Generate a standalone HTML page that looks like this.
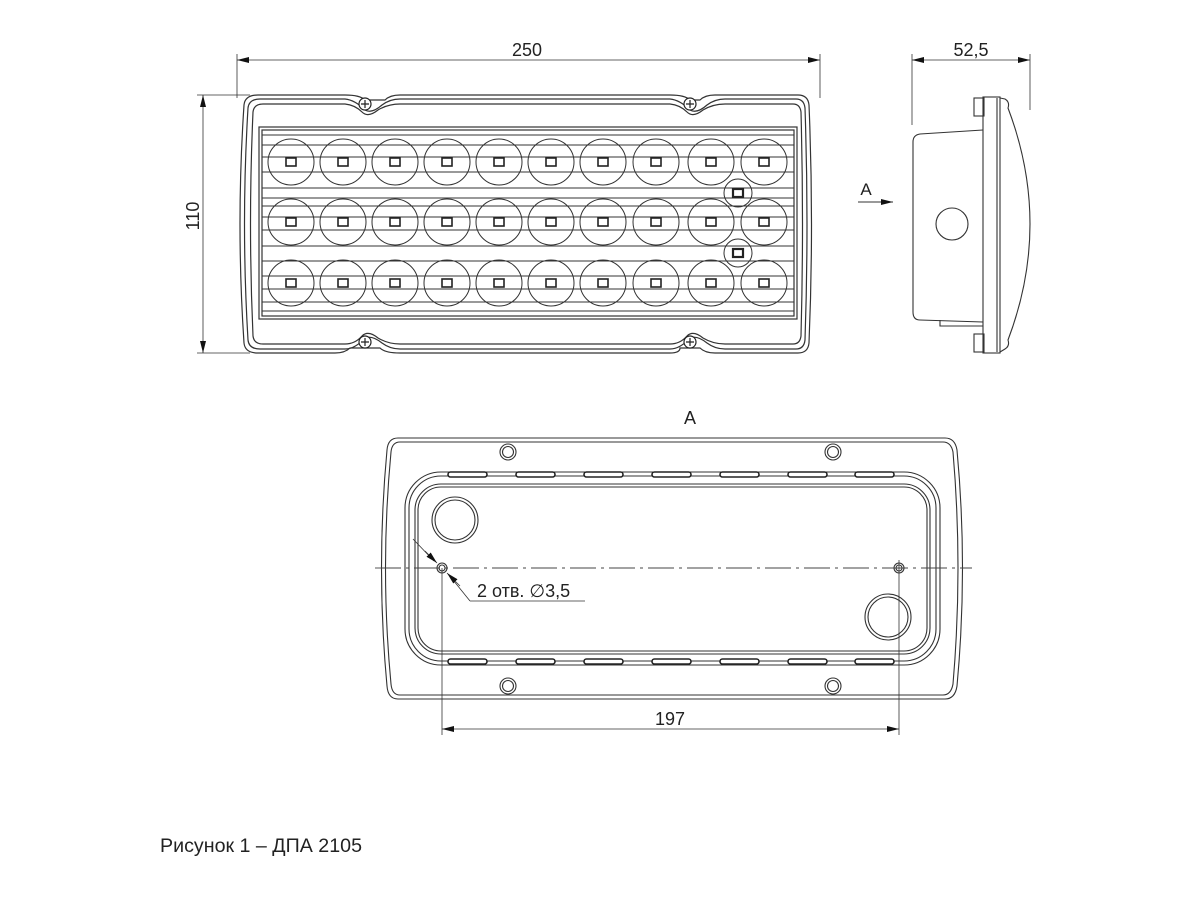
<!DOCTYPE html>
<html><head><meta charset="utf-8"><style>
html,body{margin:0;padding:0;background:#fff;width:1200px;height:900px;overflow:hidden}
svg{display:block}
text{font-family:"Liberation Sans",sans-serif;fill:#222}
</style></head><body>
<svg width="1200" height="900" viewBox="0 0 1200 900" xmlns="http://www.w3.org/2000/svg">
<defs>
<marker id="ar" viewBox="0 0 12 6" refX="12" refY="3" markerWidth="12" markerHeight="6" orient="auto-start-reverse" markerUnits="userSpaceOnUse"><path d="M0,0 L12,3 L0,6 z" fill="#111"/></marker>
</defs>
<g fill="none" stroke="#333" stroke-width="1.2">
<line x1="237" y1="54" x2="237" y2="98" stroke-width="0.8"/>
<line x1="820" y1="54" x2="820" y2="98" stroke-width="0.8"/>
<line x1="237" y1="60" x2="820" y2="60" stroke-width="0.8" marker-start="url(#ar)" marker-end="url(#ar)"/>
<line x1="197" y1="95" x2="250" y2="95" stroke-width="0.8"/>
<line x1="197" y1="353" x2="250" y2="353" stroke-width="0.8"/>
<line x1="203" y1="95" x2="203" y2="353" stroke-width="0.8" marker-start="url(#ar)" marker-end="url(#ar)"/>
<path d="M258,95 L345,95 Q360,95 365,100 L385,100 Q390,95 400,95 L670,95 Q685,95 690,100 L700,100 Q705,95 715,95 L798,95 Q808,95 809,105 Q814,224 809,343 Q808,353 798,353 L715,353 Q705,353 700,348 L680,348 Q680,353 670,353 L400,353 Q385,353 380,348 L350,348 Q345,353 335,353 L258,353 Q245,353 244,343 Q236,224 244,105 Q245,95 258,95 Z"/>
<path d="M260,99 L345,99 Q355,100 365,110 Q372,114 382,105 Q390,99 400,99 L670,99 Q680,100 690,110 Q697,114 707,105 Q715,99 725,99 L796,99 Q804,99 805,108 Q809,224 805,340 Q804,349 796,349 L725,349 Q715,349 707,343 Q697,335 690,338 Q680,349 670,349 L400,349 Q390,349 382,343 Q372,335 365,338 Q355,349 345,349 L260,349 Q249,349 248,340 Q241,224 248,108 Q249,99 260,99 Z"/>
<path d="M263,104 L345,104 Q355,105 362,112 Q368,118 378,110 Q388,104 400,104 L670,104 Q680,105 687,112 Q693,118 703,110 Q713,104 725,104 L793,104 Q800,104 801,112 Q804,224 801,336 Q800,344 793,344 L725,344 Q713,344 703,338 Q693,330 687,336 Q680,344 670,344 L400,344 Q388,344 378,338 Q368,330 362,336 Q355,344 345,344 L263,344 Q254,344 253,336 Q248,224 253,112 Q254,104 263,104 Z"/>
<rect x="259" y="127" width="538" height="192"/>
<rect x="262" y="130" width="532" height="186"/>
</g>
<g stroke="#333" stroke-width="1" fill="none">
<line x1="262" y1="135" x2="794" y2="135"/>
<line x1="262" y1="145" x2="794" y2="145"/>
<line x1="262" y1="157" x2="794" y2="157"/>
<line x1="262" y1="172" x2="794" y2="172"/>
<line x1="262" y1="188" x2="794" y2="188"/>
<line x1="262" y1="198" x2="794" y2="198"/>
<line x1="262" y1="206" x2="794" y2="206"/>
<line x1="262" y1="217" x2="794" y2="217"/>
<line x1="262" y1="230" x2="794" y2="230"/>
<line x1="262" y1="246" x2="794" y2="246"/>
<line x1="262" y1="261" x2="794" y2="261"/>
<line x1="262" y1="276" x2="794" y2="276"/>
<line x1="262" y1="289" x2="794" y2="289"/>
<line x1="262" y1="302" x2="794" y2="302"/>
<line x1="262" y1="311" x2="794" y2="311"/>
</g>
<g stroke="#333" stroke-width="1" fill="none">
<circle cx="291" cy="162" r="23"/><circle cx="343" cy="162" r="23"/><circle cx="395" cy="162" r="23"/><circle cx="447" cy="162" r="23"/><circle cx="499" cy="162" r="23"/><circle cx="551" cy="162" r="23"/><circle cx="603" cy="162" r="23"/><circle cx="656" cy="162" r="23"/><circle cx="711" cy="162" r="23"/><circle cx="764" cy="162" r="23"/>
<circle cx="291" cy="222" r="23"/><circle cx="343" cy="222" r="23"/><circle cx="395" cy="222" r="23"/><circle cx="447" cy="222" r="23"/><circle cx="499" cy="222" r="23"/><circle cx="551" cy="222" r="23"/><circle cx="603" cy="222" r="23"/><circle cx="656" cy="222" r="23"/><circle cx="711" cy="222" r="23"/><circle cx="764" cy="222" r="23"/>
<circle cx="291" cy="283" r="23"/><circle cx="343" cy="283" r="23"/><circle cx="395" cy="283" r="23"/><circle cx="447" cy="283" r="23"/><circle cx="499" cy="283" r="23"/><circle cx="551" cy="283" r="23"/><circle cx="603" cy="283" r="23"/><circle cx="656" cy="283" r="23"/><circle cx="711" cy="283" r="23"/><circle cx="764" cy="283" r="23"/>
<circle cx="738" cy="193" r="14"/><circle cx="738" cy="253" r="14"/>
</g>
<g stroke="#222" stroke-width="1.6" fill="#fff">
<rect x="286" y="158" width="10" height="8"/><rect x="338" y="158" width="10" height="8"/><rect x="390" y="158" width="10" height="8"/><rect x="442" y="158" width="10" height="8"/><rect x="494" y="158" width="10" height="8"/><rect x="546" y="158" width="10" height="8"/><rect x="598" y="158" width="10" height="8"/><rect x="651" y="158" width="10" height="8"/><rect x="706" y="158" width="10" height="8"/><rect x="759" y="158" width="10" height="8"/>
<rect x="286" y="218" width="10" height="8"/><rect x="338" y="218" width="10" height="8"/><rect x="390" y="218" width="10" height="8"/><rect x="442" y="218" width="10" height="8"/><rect x="494" y="218" width="10" height="8"/><rect x="546" y="218" width="10" height="8"/><rect x="598" y="218" width="10" height="8"/><rect x="651" y="218" width="10" height="8"/><rect x="706" y="218" width="10" height="8"/><rect x="759" y="218" width="10" height="8"/>
<rect x="286" y="279" width="10" height="8"/><rect x="338" y="279" width="10" height="8"/><rect x="390" y="279" width="10" height="8"/><rect x="442" y="279" width="10" height="8"/><rect x="494" y="279" width="10" height="8"/><rect x="546" y="279" width="10" height="8"/><rect x="598" y="279" width="10" height="8"/><rect x="651" y="279" width="10" height="8"/><rect x="706" y="279" width="10" height="8"/><rect x="759" y="279" width="10" height="8"/>
<rect x="733" y="189" width="10" height="8" stroke-width="2.2"/><rect x="733" y="249" width="10" height="8" stroke-width="2.2"/>
</g>
<g stroke="#222" stroke-width="1.2" fill="#fff">
<circle cx="365" cy="104" r="6"/><circle cx="690" cy="104" r="6"/><circle cx="365" cy="342" r="6"/><circle cx="690" cy="342" r="6"/>
<path d="M361,104h8M365,100v8M686,104h8M690,100v8M361,342h8M365,338v8M686,342h8M690,338v8"/>
</g>
<g fill="none" stroke="#333" stroke-width="1.1">
<line x1="912" y1="54" x2="912" y2="125" stroke-width="0.8"/>
<line x1="1030" y1="54" x2="1030" y2="110" stroke-width="0.8"/>
<line x1="912" y1="60" x2="1030" y2="60" stroke-width="0.8" marker-start="url(#ar)" marker-end="url(#ar)"/>
<path d="M983,130 L920,134 Q913,135 913,142 L913,312 Q913,320 920,320 L983,322"/>
<path d="M940,320 L940,326 L983,326"/>
<rect x="974" y="98" width="10" height="18"/>
<rect x="974" y="334" width="10" height="18"/>
<rect x="983" y="97" width="17" height="256"/>
<line x1="997" y1="98" x2="997" y2="352"/>
<path d="M1000,98 L1005,99 Q1010,102 1008,108 Q1052,224 1008,340 Q1010,346 1005,349 L1000,352"/>
<circle cx="952" cy="224" r="16"/>
</g>
<text x="971" y="56" font-size="18" text-anchor="middle">52,5</text>
<text x="527" y="56" font-size="18" text-anchor="middle">250</text>
<text x="0" y="0" font-size="18" text-anchor="middle" transform="translate(199,216) rotate(-90)">110</text>
<text x="866" y="195" font-size="17" text-anchor="middle">A</text>
<line x1="858" y1="202" x2="893" y2="202" stroke="#333" stroke-width="1" marker-end="url(#ar)"/>
<text x="690" y="424" font-size="18" text-anchor="middle">A</text>
<g fill="none" stroke="#333" stroke-width="1.1">
<path d="M398,438 L945,438 Q955,438 957,450 Q968,568 957,686 Q955,699 945,699 L398,699 Q388,699 387,686 Q376,568 387,450 Q388,438 398,438 Z"/>
<path d="M400,442 L943,442 Q951,442 953,452 Q963,568 953,684 Q951,695 943,695 L400,695 Q392,695 391,684 Q380,568 391,452 Q392,442 400,442 Z"/>
<rect x="405" y="472" width="535" height="193" rx="36"/>
<rect x="409" y="476" width="527" height="185" rx="32"/>
<rect x="415" y="484" width="515" height="170" rx="26"/>
<rect x="418" y="487" width="509" height="164" rx="23"/>
<circle cx="455" cy="520" r="23"/><circle cx="455" cy="520" r="20"/>
<circle cx="888" cy="617" r="23"/><circle cx="888" cy="617" r="20"/>
<circle cx="508" cy="452" r="8"/><circle cx="508" cy="452" r="5.5"/>
<circle cx="833" cy="452" r="8"/><circle cx="833" cy="452" r="5.5"/>
<circle cx="508" cy="686" r="8"/><circle cx="508" cy="686" r="5.5"/>
<circle cx="833" cy="686" r="8"/><circle cx="833" cy="686" r="5.5"/>
<circle cx="442" cy="568" r="5"/><circle cx="442" cy="568" r="3"/>
<circle cx="899" cy="568" r="5"/><circle cx="899" cy="568" r="3"/>
</g>
<g fill="#fff" stroke="#222" stroke-width="1.6">
<rect x="448" y="472" width="39" height="5" rx="2.5"/><rect x="516" y="472" width="39" height="5" rx="2.5"/><rect x="584" y="472" width="39" height="5" rx="2.5"/><rect x="652" y="472" width="39" height="5" rx="2.5"/><rect x="720" y="472" width="39" height="5" rx="2.5"/><rect x="788" y="472" width="39" height="5" rx="2.5"/><rect x="855" y="472" width="39" height="5" rx="2.5"/>
<rect x="448" y="659" width="39" height="5" rx="2.5"/><rect x="516" y="659" width="39" height="5" rx="2.5"/><rect x="584" y="659" width="39" height="5" rx="2.5"/><rect x="652" y="659" width="39" height="5" rx="2.5"/><rect x="720" y="659" width="39" height="5" rx="2.5"/><rect x="788" y="659" width="39" height="5" rx="2.5"/><rect x="855" y="659" width="39" height="5" rx="2.5"/>
</g>
<line x1="375" y1="568" x2="972" y2="568" stroke="#444" stroke-width="0.9" stroke-dasharray="26,5,3,5"/>
<g stroke="#333" stroke-width="0.8" fill="none">
<line x1="442" y1="568" x2="442" y2="735"/>
<line x1="899" y1="560" x2="899" y2="735"/>
<line x1="442" y1="729" x2="899" y2="729" marker-start="url(#ar)" marker-end="url(#ar)"/>
<line x1="413" y1="539" x2="434" y2="561"/>
<line x1="449" y1="575" x2="470" y2="601"/>
<line x1="470" y1="601" x2="585" y2="601"/>
<line x1="425" y1="551" x2="437" y2="563" marker-end="url(#ar)"/>
<line x1="460" y1="586" x2="447" y2="573" marker-end="url(#ar)"/>
</g>
<text x="477" y="597" font-size="18">2 отв. ∅3,5</text>
<text x="670" y="725" font-size="18" text-anchor="middle">197</text>
<text x="160" y="852" font-size="19" textLength="202" lengthAdjust="spacingAndGlyphs">Рисунок 1 – ДПА 2105</text>
</svg>
</body></html>
